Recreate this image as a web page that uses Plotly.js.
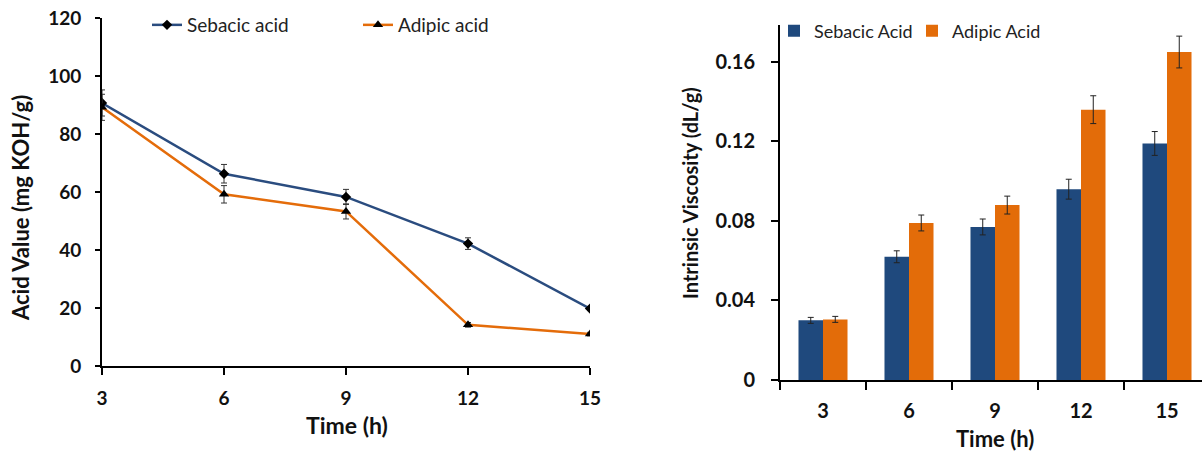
<!DOCTYPE html>
<html>
<head>
<meta charset="utf-8">
<script src="https://cdn.plot.ly/plotly-3.0.1.min.js"></script>
<style>html,body{margin:0;padding:0;background:#fff;}#chart{width:1202px;height:452px;}</style>
</head>
<body>
<div id="chart"></div>
<script>
// ---- data ----
const timeHours = [3, 6, 9, 12, 15];
const timeLabels = ['3', '6', '9', '12', '15'];
const acidSebacic = [90.7, 66.3, 58.3, 42.2, 19.8];
const acidSebacicErr = [4.5, 3.2, 2.6, 2.0, 0.6];
const acidAdipic = [89.2, 59.2, 53.3, 14.2, 11.0];
const acidAdipicErr = [4.5, 3.0, 2.6, 0.8, 0.6];
const ivSebacic = [0.030, 0.062, 0.077, 0.096, 0.119];
const ivSebacicErr = [0.0015, 0.003, 0.004, 0.005, 0.006];
const ivAdipic = [0.0305, 0.079, 0.088, 0.136, 0.165];
const ivAdipicErr = [0.0015, 0.004, 0.0045, 0.007, 0.008];
const yTicksAcid = [0, 20, 40, 60, 80, 100, 120];
const yTicksIV = [0, 0.04, 0.08, 0.12, 0.16];
const yTickTextIV = ['0', '0.04', '0.08', '0.12', '0.16'];

const blue = '#2A4C7F';
const orange = '#E46C0A';
const barBlue = '#1F497D';
const barOrange = '#E36C09';
const FONT = 'Lato, "Open Sans", sans-serif';

const W = 1202, H = 452;
const px = v => v / W;
const py = v => (H - v) / H;

const traces = [
  {
    x: timeHours, y: acidSebacic, name: 'Sebacic acid', type: 'scatter', mode: 'lines+markers',
    xaxis: 'x', yaxis: 'y', legend: 'legend',
    line: {color: blue, width: 2.5},
    marker: {symbol: 'diamond', size: 8, color: '#000'},
    error_y: {type: 'data', array: acidSebacicErr, visible: true, color: '#333', thickness: 1, width: 3}
  },
  {
    x: timeHours, y: acidAdipic, name: 'Adipic acid', type: 'scatter', mode: 'lines+markers',
    xaxis: 'x', yaxis: 'y', legend: 'legend',
    line: {color: orange, width: 2.5},
    marker: {symbol: 'triangle-up', size: 9, color: '#000'},
    error_y: {type: 'data', array: acidAdipicErr, visible: true, color: '#333', thickness: 1, width: 3}
  },
  {
    x: timeLabels, y: ivSebacic, name: 'Sebacic Acid', type: 'bar',
    xaxis: 'x2', yaxis: 'y2', legend: 'legend2',
    marker: {color: barBlue},
    error_y: {type: 'data', array: ivSebacicErr, visible: true, color: '#222', thickness: 1, width: 3}
  },
  {
    x: timeLabels, y: ivAdipic, name: 'Adipic Acid', type: 'bar',
    xaxis: 'x2', yaxis: 'y2', legend: 'legend2',
    marker: {color: barOrange},
    error_y: {type: 'data', array: ivAdipicErr, visible: true, color: '#222', thickness: 1, width: 3}
  }
];

const tickFontBold = {family: FONT, size: 19, color: '#111', weight: 'bold'};
const tickFontRight = {family: FONT, size: 20, color: '#111', weight: 'bold'};

const layout = {
  width: W, height: H,
  margin: {l: 0, r: 0, t: 0, b: 0},
  paper_bgcolor: '#fff', plot_bgcolor: '#fff',
  font: {family: FONT, color: '#111'},
  barmode: 'group', bargap: 0.43, bargroupgap: 0,
  xaxis: {
    domain: [px(102), px(590)], anchor: 'y',
    range: [3, 15], tickvals: timeHours, ticktext: timeLabels,
    showgrid: false, zeroline: false, showline: true, linecolor: '#000', linewidth: 2,
    ticks: 'outside', ticklen: 7, tickwidth: 2, tickcolor: '#000', ticklabelstandoff: 7,
    tickfont: tickFontBold
  },
  yaxis: {
    domain: [py(366), py(18)], anchor: 'x',
    range: [0, 120], tickvals: yTicksAcid,
    showgrid: false, zeroline: false, showline: true, linecolor: '#000', linewidth: 2,
    ticks: 'outside', ticklen: 5, tickwidth: 2, tickcolor: '#000', ticklabelstandoff: 10,
    tickfont: tickFontBold
  },
  xaxis2: {
    domain: [px(780), 1], anchor: 'y2', type: 'category',
    range: [-0.5, 4.407],
    showgrid: false, zeroline: false, showline: true, linecolor: '#000', linewidth: 2,
    ticks: 'outside', tickson: 'boundaries', ticklen: 8, tickwidth: 2, tickcolor: '#000', ticklabelstandoff: 12,
    tickfont: tickFontRight
  },
  yaxis2: {
    domain: [py(380), py(25)], anchor: 'x2',
    range: [0, 0.1786], tickvals: yTicksIV, ticktext: yTickTextIV,
    showgrid: false, zeroline: false, showline: true, linecolor: '#000', linewidth: 2,
    ticks: 'outside', ticklen: 7, tickwidth: 2, tickcolor: '#000', ticklabelstandoff: 12,
    tickfont: tickFontRight
  },
  legend: {
    orientation: 'h', x: px(147), y: py(25), xanchor: 'left', yanchor: 'middle',
    bgcolor: 'rgba(0,0,0,0)', font: {family: FONT, size: 19, color: '#222'},
    entrywidth: 166, entrywidthmode: 'pixels', itemclick: false
  },
  legend2: {
    orientation: 'h', x: px(774), y: py(31), xanchor: 'left', yanchor: 'middle',
    bgcolor: 'rgba(0,0,0,0)', font: {family: FONT, size: 18, color: '#222'},
    entrywidth: 93, entrywidthmode: 'pixels', itemclick: false
  },
  annotations: [
    {text: 'Acid Value (mg KOH/g)', xref: 'paper', yref: 'paper', x: px(20), y: py(208),
     textangle: -90, showarrow: false, xanchor: 'center', yanchor: 'middle',
     font: {family: FONT, size: 22, color: '#111', weight: 'bold'}},
    {text: 'Time (h)', xref: 'paper', yref: 'paper', x: px(347), y: py(425),
     showarrow: false, xanchor: 'center', yanchor: 'middle',
     font: {family: FONT, size: 23, color: '#111', weight: 'bold'}},
    {text: 'Intrinsic Viscosity (dL/g)', xref: 'paper', yref: 'paper', x: px(690), y: py(193),
     textangle: -90, showarrow: false, xanchor: 'center', yanchor: 'middle',
     font: {family: FONT, size: 20, color: '#111', weight: 'bold'}},
    {text: 'Time (h)', xref: 'paper', yref: 'paper', x: px(995), y: py(438),
     showarrow: false, xanchor: 'center', yanchor: 'middle',
     font: {family: FONT, size: 22, color: '#111', weight: 'bold'}}
  ],
  showlegend: true
};

Plotly.newPlot('chart', traces, layout, {displayModeBar: false, staticPlot: true});
</script>
</body>
</html>
